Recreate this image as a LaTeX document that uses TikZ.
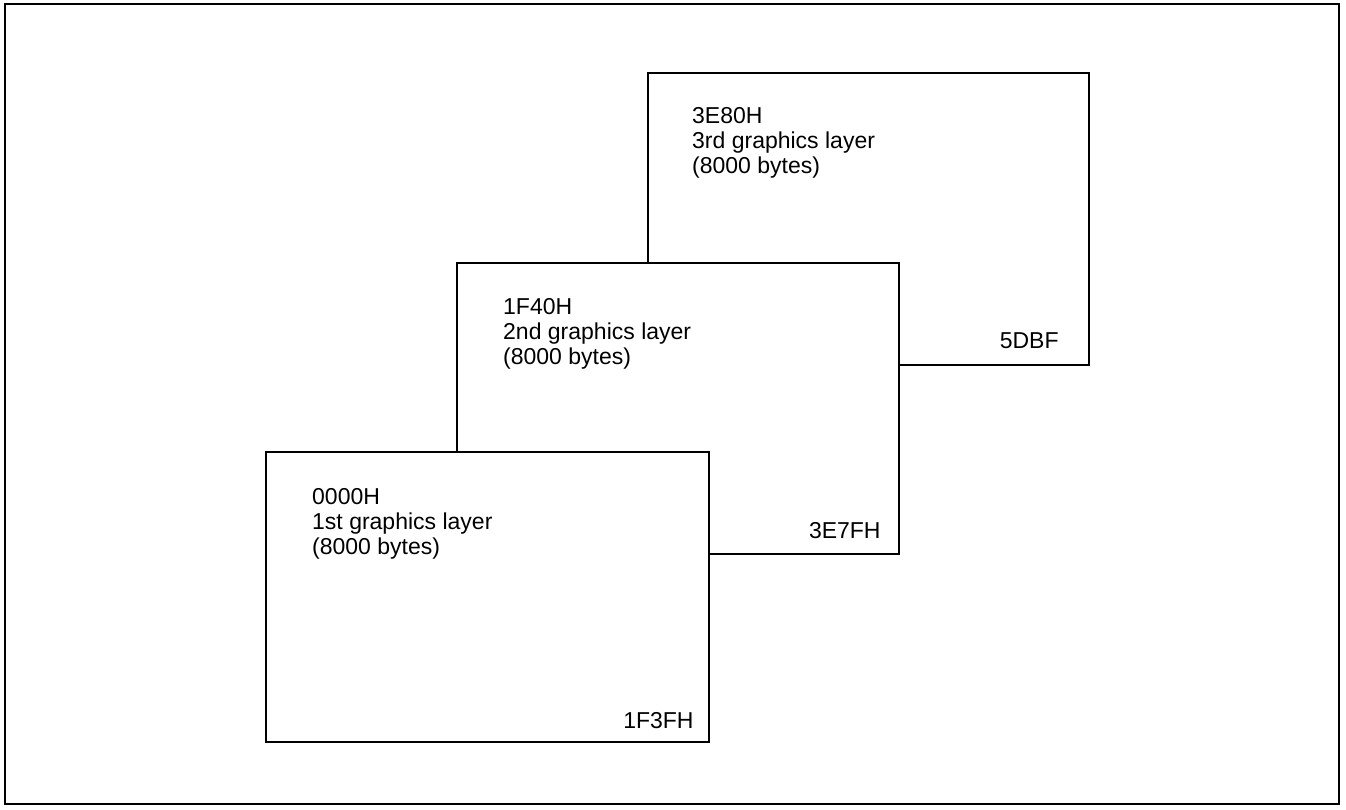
\documentclass[tikz,border=0pt]{standalone}
\usepackage{fontspec}
\setmainfont{Liberation Sans}
\usetikzlibrary{calc}
\begin{document}
\begin{tikzpicture}[x=1pt,y=-1pt,
  layerbox/.style={draw=black, fill=white, line width=1.8pt, rectangle, inner sep=0pt, anchor=north west},
  txt/.style={inner sep=0pt, anchor=base west, font=\fontsize{23}{25}\selectfont},
  endtxt/.style={inner sep=0pt, anchor=base east, font=\fontsize{23}{25}\selectfont}]
\useasboundingbox (0,0) rectangle (1346,810);
\draw[line width=2.2pt] (5,4) rectangle (1339,804);
% third layer (back)
\node[layerbox, minimum width=441pt, minimum height=292pt] (box3) at (647,72) {};
\node[txt] (t3a) at ($(box3.north west)+(45,52)$) {3E80H};
\node[txt] (t3b) at ($(box3.north west)+(45,77)$) {3rd graphics layer};
\node[txt] (t3c) at ($(box3.north west)+(45,102)$) {(8000 bytes)};
\node[endtxt] (e3) at ($(box3.south east)+(-31,-17)$) {5DBF};
% second layer
\node[layerbox, minimum width=442pt, minimum height=291pt] (box2) at (456,262) {};
\node[txt] (t2a) at ($(box2.north west)+(47,52)$) {1F40H};
\node[txt] (t2b) at ($(box2.north west)+(47,77)$) {2nd graphics layer};
\node[txt] (t2c) at ($(box2.north west)+(47,102)$) {(8000 bytes)};
\node[endtxt] (e2) at ($(box2.south east)+(-19,-16)$) {3E7FH};
% first layer (front)
\node[layerbox, minimum width=443pt, minimum height=290pt] (box1) at (265,451) {};
\node[txt] (t1a) at ($(box1.north west)+(47,53)$) {0000H};
\node[txt] (t1b) at ($(box1.north west)+(47,78)$) {1st graphics layer};
\node[txt] (t1c) at ($(box1.north west)+(47,103)$) {(8000 bytes)};
\node[endtxt] (e1) at ($(box1.south east)+(-16,-14)$) {1F3FH};
\end{tikzpicture}
\end{document}
